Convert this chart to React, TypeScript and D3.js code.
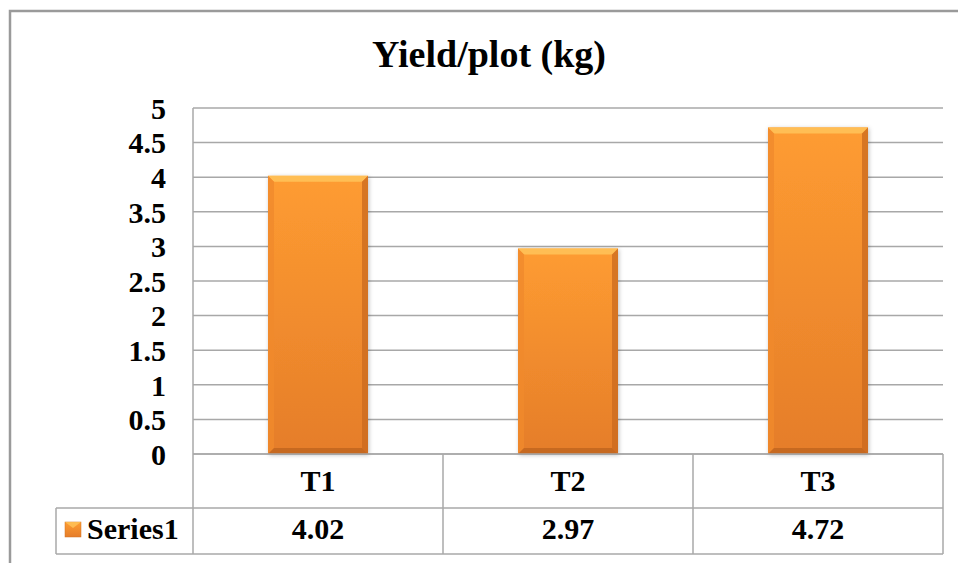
import React from 'react';
import * as d3 from 'd3';

const categories = ['T1', 'T2', 'T3'];
const values = [4.02, 2.97, 4.72];
const seriesName = 'Series1';
const yTicks = [0, 0.5, 1, 1.5, 2, 2.5, 3, 3.5, 4, 4.5, 5];
const title = 'Yield/plot (kg)';

const W = 958;
const H = 563;
const plot = { left: 193, right: 943, top: 108, bottom: 454 };
const row1Bottom = 508;
const row2Bottom = 554;
const legendLeft = 56;
const font = '"Liberation Serif", "Times New Roman", serif';
const lineColor = '#a8a8a8';

const App: React.FC = () => {
  const x = d3.scaleBand<string>()
    .domain(categories)
    .range([plot.left, plot.right])
    .paddingInner(0.6)
    .paddingOuter(0.3);
  const xCell = d3.scaleBand<string>()
    .domain(categories)
    .range([plot.left, plot.right]);
  const y = d3.scaleLinear().domain([0, 5]).range([plot.bottom, plot.top]);

  const bev = 6;

  return (
    <svg width={W} height={H} style={{ position: 'absolute', left: 0, top: 0, background: '#fff' }}>
      <defs>
        <linearGradient id="barFill" x1="0" y1="0" x2="0" y2="1">
          <stop offset="0%" stopColor="#fe9c31" />
          <stop offset="100%" stopColor="#e57d2a" />
        </linearGradient>
        <filter id="shadow" x="-20%" y="-20%" width="140%" height="140%">
          <feDropShadow dx="1" dy="1" stdDeviation="2" floodColor="#000" floodOpacity="0.25" />
        </filter>
      </defs>

      {/* outer frame */}
      <rect x={10} y={11} width={1000} height={600} fill="none" stroke="#9a9a9a" strokeWidth={2.5} />

      <text x={489} y={67} textAnchor="middle" fontFamily={font} fontWeight="bold" fontSize={38} fill="#000">
        {title}
      </text>

      {/* gridlines */}
      {yTicks.map(t => (
        <line key={t} x1={plot.left} x2={plot.right} y1={y(t)} y2={y(t)} stroke={lineColor} strokeWidth={1.5} />
      ))}

      {yTicks.map(t => (
        <text key={'l' + t} x={166} y={y(t)} dy="0.36em" textAnchor="end" fontFamily={font}
          fontWeight="bold" fontSize={30} fill="#000">
          {t}
        </text>
      ))}

      {/* bars */}
      {values.map((v, i) => {
        const x0 = x(categories[i])!;
        const x1 = x0 + x.bandwidth();
        const y0 = y(v);
        const y1 = y(0);
        return (
          <g key={categories[i]}>
            <rect x={x0} y={y0} width={x1 - x0} height={y1 - y0} fill="url(#barFill)" filter="url(#shadow)" />
            <polygon points={`${x0},${y0} ${x1},${y0} ${x1 - bev},${y0 + bev} ${x0 + bev},${y0 + bev}`} fill="#ffc45a" opacity={0.85} />
            <polygon points={`${x0},${y0} ${x0 + bev},${y0 + bev} ${x0 + bev},${y1 - bev} ${x0},${y1}`} fill="#f08a2c" opacity={0.8} />
            <polygon points={`${x1},${y0} ${x1},${y1} ${x1 - bev},${y1 - bev} ${x1 - bev},${y0 + bev}`} fill="#c9691f" opacity={0.75} />
            <polygon points={`${x0},${y1} ${x0 + bev},${y1 - bev} ${x1 - bev},${y1 - bev} ${x1},${y1}`} fill="#b9611d" opacity={0.7} />
          </g>
        );
      })}

      {/* data table */}
      <g stroke={lineColor} strokeWidth={1.5}>
        <line x1={plot.left} x2={plot.right} y1={plot.bottom} y2={plot.bottom} />
        <line x1={legendLeft} x2={plot.right} y1={row1Bottom} y2={row1Bottom} />
        <line x1={legendLeft} x2={plot.right} y1={row2Bottom} y2={row2Bottom} />
        <line x1={plot.left} x2={plot.left} y1={plot.top} y2={row2Bottom} />
        <line x1={legendLeft} x2={legendLeft} y1={row1Bottom} y2={row2Bottom} />
        {categories.map(c => {
          const xr = xCell(c)! + xCell.bandwidth();
          return <line key={'v' + c} x1={xr} x2={xr} y1={plot.bottom} y2={row2Bottom} />;
        })}
      </g>

      {categories.map((c, i) => {
        const cx = xCell(c)! + xCell.bandwidth() / 2;
        return (
          <g key={'t' + c} fontFamily={font} fontWeight="bold" fontSize={30} fill="#000" textAnchor="middle">
            <text x={cx} y={491}>{c}</text>
            <text x={cx} y={539}>{values[i].toFixed(2)}</text>
          </g>
        );
      })}

      <rect x={65} y={522} width={16} height={15} fill="url(#barFill)" stroke="#d07020" strokeWidth={0.5} />
      <polygon points="65,522 81,522 73,528" fill="#ffc45a" opacity={0.8} />
      <text x={87} y={539} fontFamily={font} fontWeight="bold" fontSize={30} fill="#000">{seriesName}</text>
    </svg>
  );
};

export default App;
